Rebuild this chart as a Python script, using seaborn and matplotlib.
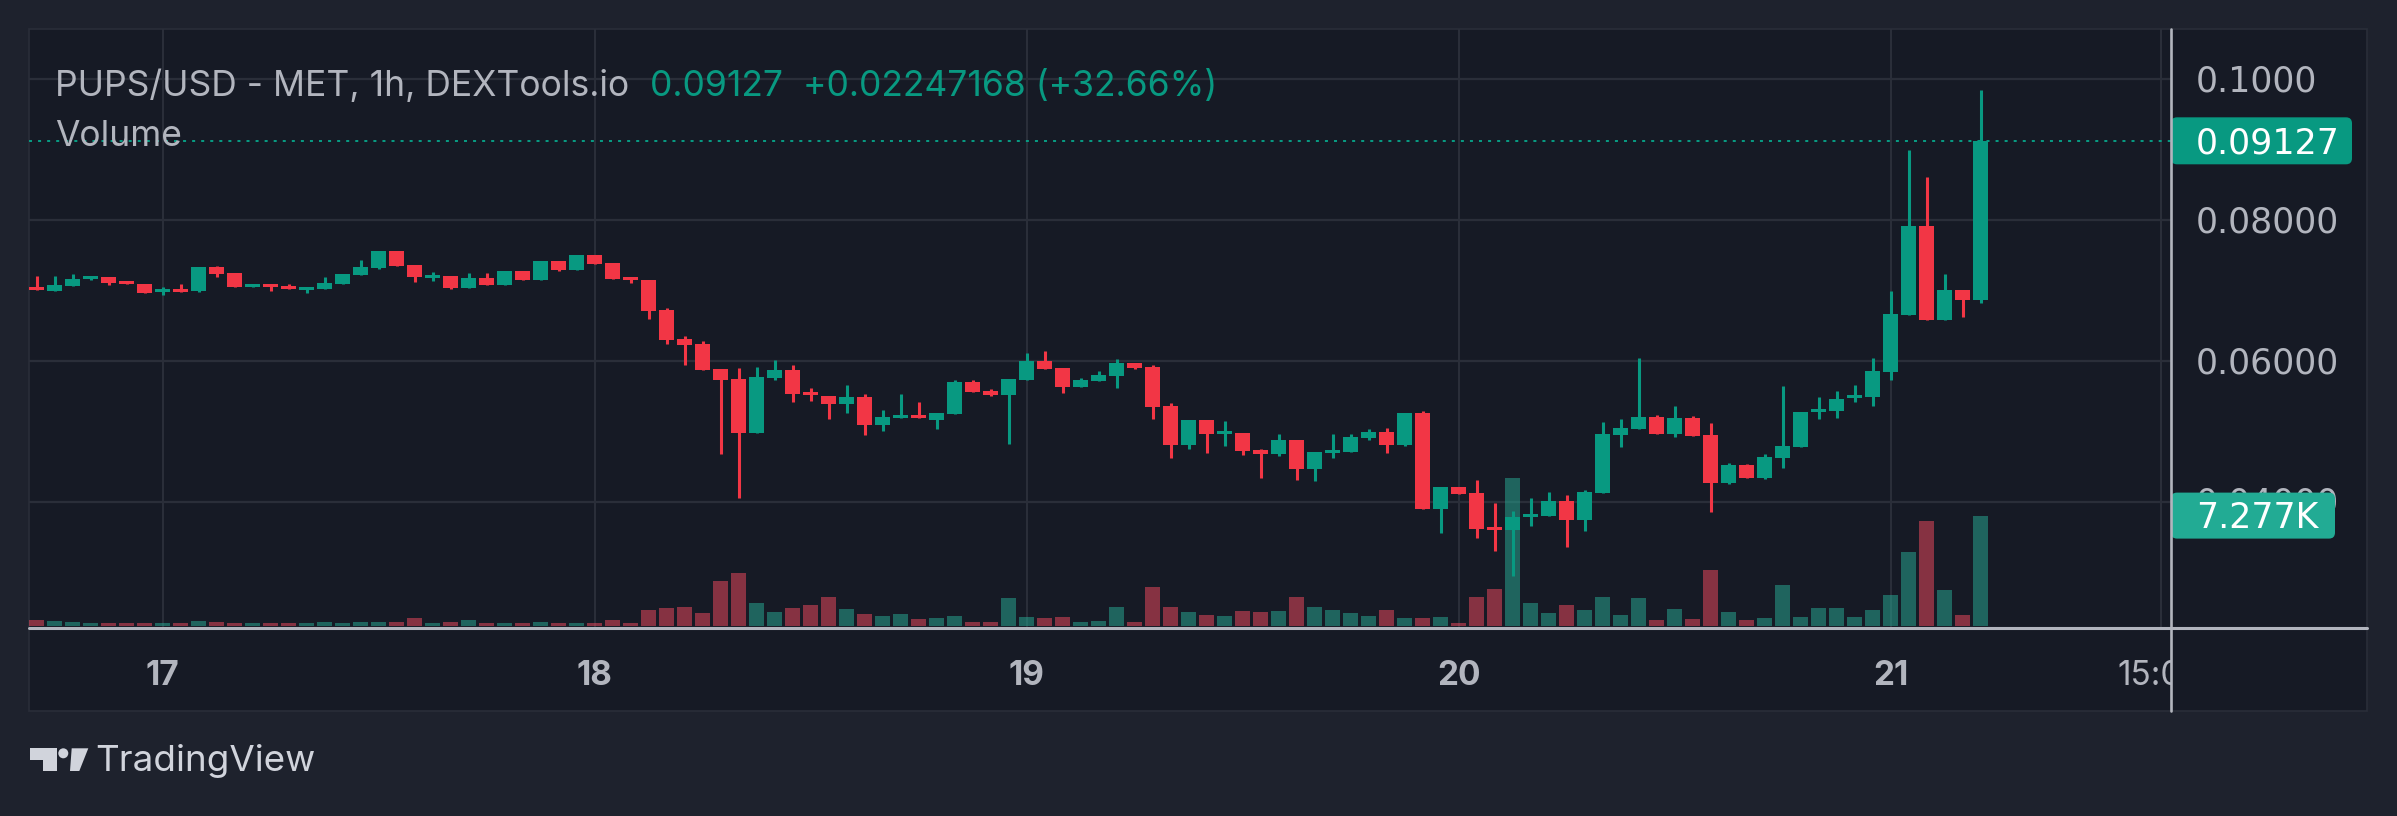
import numpy as np
import pandas as pd
import matplotlib
matplotlib.use("Agg")
import matplotlib.pyplot as plt
import seaborn as sns
from matplotlib.patches import Rectangle, FancyBboxPatch, Circle, Polygon
from matplotlib.lines import Line2D
from matplotlib.transforms import IdentityTransform

# ---------------- data ----------------
start_time = "2024-04-16 17:00"   # first 1h candle
opens = [0.0705, 0.0699, 0.0706, 0.0716, 0.0719, 0.0713, 0.0709, 0.0698, 0.0702, 0.0699,
         0.0733, 0.0725, 0.0705, 0.0709, 0.0706, 0.0700, 0.0702, 0.0709, 0.0722, 0.0732,
         0.0756, 0.0736, 0.0718, 0.0720, 0.0703, 0.0718, 0.0708, 0.0727, 0.0715, 0.0742,
         0.0729, 0.0750, 0.0739, 0.0719, 0.0715, 0.0672, 0.0631, 0.0624, 0.0588, 0.0574,
         0.0498, 0.0576, 0.0587, 0.0556, 0.0550, 0.0539, 0.0549, 0.0509, 0.0519, 0.0523,
         0.0516, 0.0524, 0.0570, 0.0557, 0.0551, 0.0573, 0.0600, 0.0590, 0.0563, 0.0571,
         0.0578, 0.0597, 0.0591, 0.0536, 0.0480, 0.0516, 0.0496, 0.0498, 0.0473, 0.0468,
         0.0487, 0.0446, 0.0469, 0.0470, 0.0490, 0.0499, 0.0480, 0.0526, 0.0389, 0.0421,
         0.0412, 0.0364, 0.0359, 0.0378, 0.0379, 0.0401, 0.0374, 0.0412, 0.0495, 0.0503,
         0.0520, 0.0496, 0.0519, 0.0495, 0.0426, 0.0452, 0.0433, 0.0462, 0.0478, 0.0527,
         0.0529, 0.0547, 0.0549, 0.0584, 0.0665, 0.0791, 0.0658, 0.0700, 0.0687]
highs = [0.0720, 0.0720, 0.0723, 0.0720, 0.0719, 0.0713, 0.0709, 0.0705, 0.0709, 0.0733,
         0.0735, 0.0725, 0.0709, 0.0709, 0.0709, 0.0705, 0.0719, 0.0723, 0.0743, 0.0756,
         0.0756, 0.0736, 0.0726, 0.0720, 0.0725, 0.0725, 0.0727, 0.0727, 0.0742, 0.0742,
         0.0750, 0.0750, 0.0739, 0.0719, 0.0715, 0.0675, 0.0635, 0.0628, 0.0588, 0.0590,
         0.0591, 0.0601, 0.0594, 0.0561, 0.0550, 0.0566, 0.0553, 0.0530, 0.0553, 0.0541,
         0.0526, 0.0573, 0.0573, 0.0560, 0.0574, 0.0611, 0.0614, 0.0590, 0.0576, 0.0586,
         0.0603, 0.0597, 0.0594, 0.0540, 0.0516, 0.0516, 0.0514, 0.0498, 0.0475, 0.0496,
         0.0487, 0.0470, 0.0496, 0.0496, 0.0503, 0.0504, 0.0526, 0.0529, 0.0421, 0.0421,
         0.0431, 0.0398, 0.0386, 0.0405, 0.0414, 0.0409, 0.0416, 0.0513, 0.0517, 0.0604,
         0.0523, 0.0536, 0.0522, 0.0512, 0.0455, 0.0454, 0.0468, 0.0564, 0.0527, 0.0549,
         0.0557, 0.0566, 0.0604, 0.0699, 0.0900, 0.0861, 0.0724, 0.0700, 0.0985]
lows = [0.0701, 0.0699, 0.0706, 0.0715, 0.0708, 0.0709, 0.0696, 0.0693, 0.0698, 0.0698,
        0.0719, 0.0705, 0.0705, 0.0699, 0.0702, 0.0696, 0.0702, 0.0709, 0.0722, 0.0730,
        0.0735, 0.0712, 0.0713, 0.0702, 0.0703, 0.0708, 0.0708, 0.0715, 0.0715, 0.0727,
        0.0729, 0.0737, 0.0716, 0.0710, 0.0659, 0.0624, 0.0594, 0.0587, 0.0467, 0.0405,
        0.0498, 0.0573, 0.0541, 0.0543, 0.0517, 0.0526, 0.0495, 0.0500, 0.0519, 0.0519,
        0.0503, 0.0524, 0.0556, 0.0550, 0.0482, 0.0573, 0.0588, 0.0554, 0.0563, 0.0571,
        0.0561, 0.0588, 0.0517, 0.0462, 0.0475, 0.0469, 0.0479, 0.0466, 0.0433, 0.0464,
        0.0431, 0.0429, 0.0462, 0.0470, 0.0487, 0.0469, 0.0479, 0.0389, 0.0355, 0.0411,
        0.0348, 0.0330, 0.0294, 0.0365, 0.0379, 0.0335, 0.0358, 0.0412, 0.0478, 0.0503,
        0.0496, 0.0492, 0.0493, 0.0385, 0.0425, 0.0433, 0.0432, 0.0448, 0.0478, 0.0517,
        0.0519, 0.0541, 0.0536, 0.0573, 0.0665, 0.0658, 0.0658, 0.0662, 0.0682]
closes = [0.0701, 0.0708, 0.0716, 0.0720, 0.0710, 0.0709, 0.0696, 0.0702, 0.0698, 0.0733,
          0.0723, 0.0705, 0.0709, 0.0705, 0.0702, 0.0705, 0.0710, 0.0723, 0.0733, 0.0756,
          0.0735, 0.0719, 0.0722, 0.0703, 0.0718, 0.0708, 0.0727, 0.0715, 0.0742, 0.0729,
          0.0750, 0.0737, 0.0716, 0.0715, 0.0671, 0.0630, 0.0623, 0.0587, 0.0573, 0.0498,
          0.0577, 0.0587, 0.0553, 0.0551, 0.0539, 0.0549, 0.0509, 0.0520, 0.0523, 0.0519,
          0.0526, 0.0570, 0.0556, 0.0551, 0.0574, 0.0600, 0.0588, 0.0563, 0.0573, 0.0580,
          0.0597, 0.0590, 0.0534, 0.0480, 0.0516, 0.0496, 0.0500, 0.0472, 0.0468, 0.0487,
          0.0446, 0.0470, 0.0473, 0.0492, 0.0499, 0.0480, 0.0526, 0.0389, 0.0421, 0.0411,
          0.0361, 0.0359, 0.0378, 0.0382, 0.0401, 0.0374, 0.0414, 0.0496, 0.0505, 0.0520,
          0.0496, 0.0519, 0.0493, 0.0426, 0.0452, 0.0433, 0.0463, 0.0479, 0.0527, 0.0532,
          0.0546, 0.0551, 0.0586, 0.0666, 0.0791, 0.0658, 0.0700, 0.0687, 0.09127]
volumes = [395, 330, 264, 198, 198, 198, 198, 198, 198, 330,
           264, 198, 198, 198, 198, 198, 264, 198, 264, 264,
           264, 527, 198, 264, 395, 198, 198, 198, 264, 198,
           198, 198, 395, 198, 1054, 1186, 1252, 857, 2966, 3493,
           1516, 923, 1186, 1384, 1911, 1120, 791, 659, 791, 461,
           527, 659, 264, 264, 1845, 593, 527, 593, 264, 330,
           1252, 264, 2570, 1252, 923, 725, 659, 989, 923, 989,
           1911, 1252, 1054, 857, 659, 1054, 527, 527, 593, 198,
           1911, 2438, 9753, 1516, 857, 1384, 1054, 1911, 725, 1845,
           395, 1120, 461, 3690, 923, 395, 527, 2702, 593, 1186,
           1186, 593, 1054, 2043, 4877, 6920, 2372, 725, 7277]

price_ticks = [0.04, 0.06, 0.08, 0.10]
price_tick_labels = ["0.04000", "0.06000", "0.08000", "0.1000"]
title_text = "PUPS/USD - MET, 1h, DEXTools.io"
change_text = "0.09127  +0.02247168 (+32.66%)"
volume_title = "Volume"
extra_time_label = "15:00"

# ---------------- style ----------------
OUTER_BG = "#1e222d"
PANE_BG = "#161a25"
GRID = "#2a2e39"
TXT = "#b2b5be"
UP = "#089981"
DOWN = "#f23645"
VOL_UP = "#28ae97"
VOL_DOWN = "#f74b5f"
AXIS_LINE = "#b2b5be"

sns.set_theme(style="dark")
plt.rcParams["font.family"] = ["Inter", "DejaVu Sans"]
SCALE_FONT = ["DejaVu Sans"]

W, H = 2397, 816
PANE_L, PANE_R, PANE_T, PANE_B = 29, 2367, 29, 711
PLOT_R, AXIS_Y = 2171, 628
LABEL_X = 2196

fig = plt.figure(figsize=(W / 100, H / 100), dpi=100, facecolor=OUTER_BG)


def rect_fig(x0, y0_top, x1, y1_top):
    return [x0 / W, 1 - y1_top / H, (x1 - x0) / W, (y1_top - y0_top) / H]


fig.add_artist(Rectangle((PANE_L, H - PANE_B), PANE_R - PANE_L, PANE_B - PANE_T,
                         transform=IdentityTransform(), facecolor=PANE_BG,
                         edgecolor=GRID, lw=1.2, zorder=-10))

o = np.array(opens); h = np.array(highs); l = np.array(lows); c = np.array(closes)
v = np.array(volumes)
n = len(o)
idx = np.arange(n)
up = c >= o

times = pd.date_range(start_time, periods=n + 10, freq="h")
day_ticks = list(np.where(times.hour == 0)[0])
extra_tick = int(np.where((times.day == times[-1].day) & (times.hour == 15))[0][0])
day_labels = [str(times[t].day) for t in day_ticks]

main_rect = rect_fig(PANE_L, PANE_T, PLOT_R, AXIS_Y)
gax = fig.add_axes(main_rect)
vax = fig.add_axes(main_rect, sharex=gax)
pax = fig.add_axes(main_rect, sharex=gax, sharey=gax)
tax = fig.add_axes(rect_fig(PANE_L, AXIS_Y, PLOT_R, PANE_B), sharex=gax)
for a in (gax, vax, pax, tax):
    a.set_facecolor("none")

# volume (seaborn)
df = pd.DataFrame({"idx": idx, "volume": v, "dir": np.where(up, "up", "down")})
sns.barplot(data=df, x="idx", y="volume", hue="dir",
            palette={"up": VOL_UP, "down": VOL_DOWN}, dodge=False, width=0.83,
            native_scale=True, legend=False, errorbar=None, saturation=1,
            alpha=0.5, linewidth=0, ax=vax)

# candles
colors = np.where(up, UP, DOWN)
pax.vlines(idx, l, h, colors=colors, lw=2.2, zorder=1)
body_bottom = np.minimum(o, c)
body_h = np.maximum(np.abs(c - o), 0.00012)
pax.bar(idx, body_h, bottom=body_bottom, width=0.83, color=colors, linewidth=0, zorder=2)
pax.axhline(c[-1], color=UP, lw=1.45, ls=(0, (1.5, 3.0)), zorder=3)

# grid
for p in price_ticks:
    gax.axhline(p, color=GRID, lw=1.6)
for t in day_ticks + [extra_tick]:
    gax.axvline(t, color=GRID, lw=1.5)

# scales
px_per_price = 140.7 / 0.02
y_lo = price_ticks[0] - (AXIS_Y - 501.5) / px_per_price
y_hi = price_ticks[0] + (501.5 - PANE_T) / px_per_price
gax.set_ylim(y_lo, y_hi)
vol_per_px = v[-1] / 110.4
vax.set_ylim(-2 * vol_per_px, (AXIS_Y - PANE_T - 2) * vol_per_px)
x_lo = -0.422
x_hi = x_lo + (PLOT_R - PANE_L) / 18.0
gax.set_xlim(x_lo, x_hi)
tax.set_ylim(0, 1)

for a in (gax, vax, pax, tax):
    a.set_axis_off()

# price axis labels
FS = 25.5
SFS = 25
for p, lab in zip(price_ticks, price_tick_labels):
    yd = pax.transData.transform((0, p))[1]
    fig.text(LABEL_X / W, (yd - 12.5) / H, lab, ha="left", va="baseline",
             fontsize=SFS, color=TXT, zorder=3, family=SCALE_FONT)

yd = pax.transData.transform((0, c[-1]))[1]
fig.add_artist(FancyBboxPatch((PLOT_R, yd - 23.5), 181, 47,
                              boxstyle="round,pad=0,rounding_size=6",
                              transform=IdentityTransform(), facecolor=UP,
                              edgecolor="none", zorder=5))
fig.text(LABEL_X / W, (yd - 12.5) / H, f"{c[-1]:.5f}", ha="left", va="baseline",
         fontsize=SFS, color="white", zorder=6, family=SCALE_FONT)

yv = vax.transData.transform((0, v[-1]))[1]
fig.add_artist(FancyBboxPatch((PLOT_R, yv - 23), 164, 46,
                              boxstyle="round,pad=0,rounding_size=6",
                              transform=IdentityTransform(), facecolor="#22ab94",
                              edgecolor="none", zorder=5))
fig.text(LABEL_X / W, (yv - 12.5) / H, f"{v[-1] / 1000:.3f}K", ha="left",
         va="baseline", fontsize=SFS, color="white", zorder=6, family=SCALE_FONT)

# time axis labels
ybase = (PANE_B - 685) / (PANE_B - AXIS_Y)
for t, lab in zip(day_ticks, day_labels):
    tax.text(t, ybase, lab, transform=tax.get_xaxis_transform(), ha="center",
             va="baseline", fontsize=24, color=TXT, fontweight="bold", clip_on=True)
tax.text(extra_tick, ybase, extra_time_label, transform=tax.get_xaxis_transform(),
         ha="center", va="baseline", fontsize=24, color=TXT, clip_on=True)

# legend texts
fig.text(55 / W, 1 - 96 / H, title_text, fontsize=FS, color=TXT, va="baseline")
fig.text(650 / W, 1 - 96 / H, change_text, fontsize=FS, color=UP, va="baseline")
fig.text(55 / W, 1 - 146.5 / H, volume_title, fontsize=FS, color=TXT, va="baseline")

# axis border lines
fig.add_artist(Line2D([PANE_L, PANE_R], [H - AXIS_Y, H - AXIS_Y], transform=IdentityTransform(),
                      color=AXIS_LINE, lw=2.2, zorder=10))
fig.add_artist(Line2D([PLOT_R, PLOT_R], [H - PANE_T, H - PANE_B], transform=IdentityTransform(),
                      color=AXIS_LINE, lw=1.9, zorder=10))

# TradingView logo
LOGO = "#d1d4dc"
for art in [Rectangle((30, H - 760), 27, 12), Rectangle((43, H - 771), 14, 23),
            Circle((63.3, H - 753.3), 5.0),
            Polygon([(71.7, H - 748.3), (88.3, H - 748.3), (79.3, H - 771), (70, H - 771)])]:
    art.set_transform(IdentityTransform())
    art.set_facecolor(LOGO)
    art.set_edgecolor("none")
    fig.add_artist(art)
fig.text(95 / W, 1 - 771 / H, "TradingView", fontsize=26.5, color=LOGO, va="baseline")

fig.savefig("out.png", dpi=100, facecolor=OUTER_BG)
